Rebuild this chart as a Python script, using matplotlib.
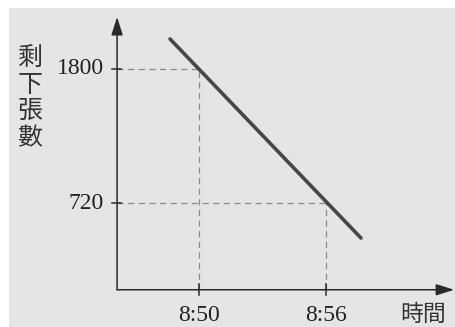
import matplotlib
matplotlib.use("Agg")
import matplotlib.pyplot as plt
from matplotlib.patches import Rectangle

# Tickets remaining over time (minutes after 8:00)
line_minutes = [48.63, 57.65]
line_tickets = [2042, 438]

marked_minutes = [50, 56]
marked_tickets = [1800, 720]
x_tick_labels = ["8:50", "8:56"]
y_tick_labels = ["1800", "720"]

x_label = "時間"
y_label = "剩下張數"

W, H = 455, 327
fig = plt.figure(figsize=(W / 100, H / 100), dpi=100)
fig.patch.set_facecolor("white")
fig.add_artist(Rectangle((9 / W, 0), 1 - 9 / W, (H - 8) / H,
                         transform=fig.transFigure, facecolor="#e5e5e5",
                         edgecolor="none", zorder=-10))

ax = fig.add_axes([0, 0, 1, 1])
ax.set_zorder(1)
ax.set_axis_off()
ax.patch.set_visible(False)

# pixel scale: 21.17 px per minute, 0.12407 px per ticket
x_origin, y_origin = 46.13, 21
ax.set_xlim(40.60, 62.09)
ax.set_ylim(-279, 2356)

axis_col = "#2a2a2a"
arrow = dict(arrowstyle="-|>,head_length=1.1,head_width=0.35", color=axis_col,
             lw=1.1, shrinkA=0, shrinkB=0)
ax.annotate("", xy=(x_origin, 2219), xytext=(x_origin, y_origin), arrowprops=arrow)
ax.annotate("", xy=(62.05, y_origin), xytext=(x_origin, y_origin), arrowprops=arrow)

# guide lines from the marked points to both axes
for m, t in zip(marked_minutes, marked_tickets):
    ax.plot([x_origin, m], [t, t], color="#8a8a8a", lw=0.9, dashes=(5, 3.5))
    ax.plot([m, m], [y_origin, t], color="#8a8a8a", lw=0.9, dashes=(5, 3.5))

# tick marks crossing the axes
dx = 5 / 21.17
dy = 5 / 0.12407
for t in marked_tickets:
    ax.plot([x_origin - dx, x_origin + dx * 0.8], [t, t], color=axis_col, lw=1.1)
for m in marked_minutes:
    ax.plot([m, m], [y_origin - dy * 1.1, y_origin + dy * 1.2], color=axis_col, lw=1.1)

ax.plot(line_minutes, line_tickets, color="#474747", lw=2.6, solid_capstyle="round")

serif = "Liberation Serif"
for t, lab in zip(marked_tickets, y_tick_labels):
    ax.text(x_origin - 13 / 21.17, t, lab, ha="right", va="center",
            fontsize=17, family=serif, color="#222222")
for m, lab in zip(marked_minutes, x_tick_labels):
    ax.text(m, y_origin - 26 / 0.12407, lab, ha="center", va="center",
            fontsize=17, family=serif, color="#222222")

cjk = ["Noto Sans CJK TC", "DejaVu Sans"]
ax.text(30 / W, 1 - 98 / H, "\n".join(y_label), transform=ax.transAxes,
        ha="center", va="center", fontsize=18, family=cjk, color="#333333",
        linespacing=1.03, fontweight="light")
ax.text(423 / W, 1 - 314 / H, x_label, transform=ax.transAxes,
        ha="center", va="center", fontsize=16.5, family=cjk, color="#333333",
        fontweight="light")

fig.savefig("out.png", dpi=100, facecolor=fig.get_facecolor())
